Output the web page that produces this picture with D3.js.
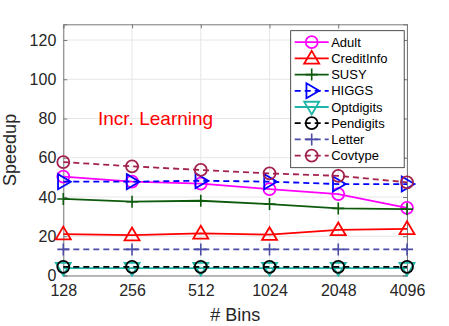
<!DOCTYPE html>
<html>
<head>
<meta charset="utf-8">
<script src="https://cdn.jsdelivr.net/npm/d3@7"></script>
<style>
  body { margin: 0; background: #fff; }
  text { font-family: "Liberation Sans", Arial, sans-serif; }
</style>
</head>
<body>
<div id="chart"></div>
<script>
// data
var bins = ["128", "256", "512", "1024", "2048", "4096"];
var yTicks = [0, 20, 40, 60, 80, 100, 120];

var adult      = [50.4, 47.8, 46.8, 44.0, 41.5, 34.5];
var creditInfo = [21.1, 20.6, 21.5, 20.8, 23.2, 23.8];
var susy       = [39.0, 37.6, 38.1, 36.4, 34.2, 33.8];
var higgs      = [47.8, 47.8, 48.3, 47.8, 46.6, 46.6];
var optdigits  = [3.8, 3.8, 3.8, 3.8, 3.8, 3.8];
var pendigits  = [4.4, 4.4, 4.4, 4.4, 4.4, 4.4];
var letter     = [13.3, 13.3, 13.3, 13.3, 13.3, 13.3];
var covtype    = [57.8, 55.6, 53.8, 52.0, 50.8, 47.5];

var series = [
  {name: "Adult",      vals: adult,      color: "#ff00ff", dash: null,  marker: "circle"},
  {name: "CreditInfo", vals: creditInfo, color: "#ff0000", dash: null,  marker: "up"},
  {name: "SUSY",       vals: susy,       color: "#0d5a0d", dash: null,  marker: "plus"},
  {name: "HIGGS",      vals: higgs,      color: "#0000ff", dash: "6,4", marker: "right"},
  {name: "Optdigits",  vals: optdigits,  color: "#1fb5a8", dash: null,  marker: "down"},
  {name: "Pendigits",  vals: pendigits,  color: "#000000", dash: "6,4", marker: "circle"},
  {name: "Letter",     vals: letter,     color: "#4d4da8", dash: "6,4", marker: "plus"},
  {name: "Covtype",    vals: covtype,    color: "#a3214d", dash: "6,4", marker: "circle"}
];

var W = 449, H = 326;
var margin = {top: 24.3, right: 42, bottom: 50.5, left: 63.3};
var width = W - margin.left - margin.right;
var height = H - margin.top - margin.bottom;

var svg = d3.select("#chart").append("svg")
    .attr("width", W).attr("height", H);

var g = svg.append("g")
    .attr("transform", "translate(" + margin.left + "," + margin.top + ")");

var x = d3.scalePoint().domain(bins).range([0, width]);
var y = d3.scaleLinear().domain([0, 128]).range([height, 0]);

// grid
g.selectAll("line.gx").data(bins).enter().append("line")
    .attr("x1", d => x(d)).attr("x2", d => x(d))
    .attr("y1", 0).attr("y2", height)
    .attr("stroke", "#e6e6e6");
g.selectAll("line.gy").data(yTicks).enter().append("line")
    .attr("y1", d => y(d)).attr("y2", d => y(d))
    .attr("x1", 0).attr("x2", width)
    .attr("stroke", "#e6e6e6");

// axes (ticks inside)
var axisColor = "#262626";
var xAxis = g.append("g").attr("transform", "translate(0," + height + ")")
    .call(d3.axisBottom(x).tickSize(-4).tickPadding(9));
var yAxis = g.append("g")
    .call(d3.axisLeft(y).tickValues(yTicks).tickSize(-4).tickPadding(7));
var xTop = g.append("g").call(d3.axisTop(x).tickSize(-4).tickFormat(""));
var yRight = g.append("g").attr("transform", "translate(" + width + ",0)")
    .call(d3.axisRight(y).tickValues(yTicks).tickSize(-4).tickFormat(""));

[xAxis, yAxis, xTop, yRight].forEach(function(a) {
  a.select(".domain").attr("stroke", "#7a7a7a");
  a.selectAll(".tick line").attr("stroke", "#7a7a7a");
  a.selectAll(".tick text").attr("fill", axisColor)
    .style("font-size", "16px").style("font-family", "Liberation Sans, Arial, sans-serif");
});

// axis labels
svg.append("text")
    .attr("x", margin.left + width / 2).attr("y", 321)
    .attr("text-anchor", "middle").attr("fill", axisColor)
    .style("font-size", "18px").text("# Bins");
svg.append("text")
    .attr("transform", "translate(16," + (margin.top + height / 2) + ") rotate(-90)")
    .attr("text-anchor", "middle").attr("fill", axisColor)
    .style("font-size", "18px").text("Speedup");

// marker drawer
function drawMarker(sel, type, color) {
  var r = 6, t = 7.5;
  if (type === "circle") {
    sel.append("circle").attr("r", r).attr("fill", "none")
      .attr("stroke", color).attr("stroke-width", 1.8);
  } else if (type === "plus") {
    sel.append("path").attr("d", "M-6,0H6M0,-6V6")
      .attr("stroke", color).attr("stroke-width", 1.6).attr("fill", "none");
  } else {
    var pts;
    if (type === "up") pts = [[0, -t], [t, t * 0.7], [-t, t * 0.7]];
    else if (type === "down") pts = [[0, t], [t, -t * 0.7], [-t, -t * 0.7]];
    else pts = [[t, 0], [-t * 0.7, -t], [-t * 0.7, t]];
    sel.append("path").attr("d", "M" + pts.join("L") + "Z")
      .attr("fill", "none").attr("stroke", color).attr("stroke-width", 1.8);
  }
}

// lines + markers
var line = d3.line().x((d, i) => x(bins[i])).y(d => y(d));
series.forEach(function(s) {
  g.append("path").datum(s.vals)
    .attr("d", line).attr("fill", "none")
    .attr("stroke", s.color).attr("stroke-width", 1.8)
    .attr("stroke-dasharray", s.dash);
  s.vals.forEach(function(v, i) {
    var m = g.append("g").attr("transform", "translate(" + x(bins[i]) + "," + y(v) + ")");
    drawMarker(m, s.marker, s.color);
  });
});

// annotation
svg.append("text").attr("x", 98).attr("y", 125)
    .attr("fill", "#ff0000").style("font-size", "19px").text("Incr. Learning");

// legend
var lg = svg.append("g").attr("transform", "translate(290.7,30.7)");
lg.append("rect").attr("width", 113.5).attr("height", 137)
    .attr("fill", "#fff").attr("stroke", "#262626").attr("stroke-width", 0.8);
series.forEach(function(s, i) {
  var yy = 11.5 + i * 16.2;
  lg.append("line").attr("x1", 4).attr("x2", 38).attr("y1", yy).attr("y2", yy)
    .attr("stroke", s.color).attr("stroke-width", 1.8)
    .attr("stroke-dasharray", s.dash);
  var m = lg.append("g").attr("transform", "translate(21," + yy + ")");
  drawMarker(m, s.marker, s.color);
  lg.append("text").attr("x", 40.5).attr("y", yy + 4.6)
    .attr("fill", "#000").style("font-size", "13px").text(s.name);
});
</script>
</body>
</html>
